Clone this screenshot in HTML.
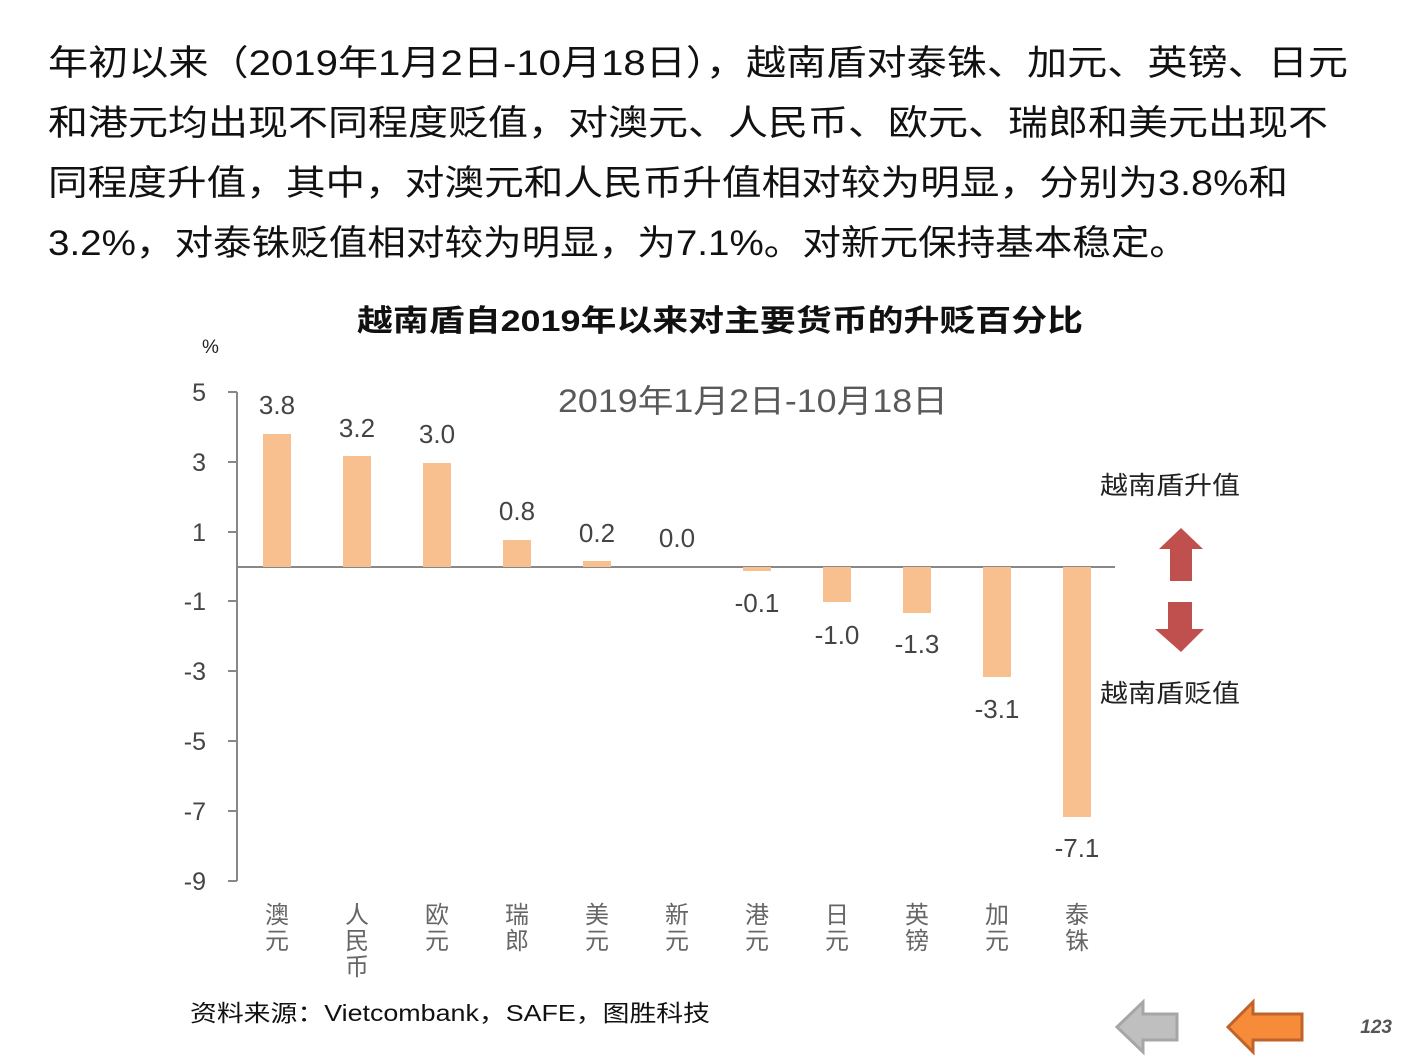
<!DOCTYPE html>
<html><head><meta charset="utf-8"><style>
body{margin:0;background:#fff;width:1411px;height:1058px;overflow:hidden}
svg{display:block}
text{font-family:"Liberation Sans","Noto Sans CJK SC",sans-serif}
</style></head><body>
<svg width="1411" height="1058" viewBox="0 0 1411 1058" xmlns="http://www.w3.org/2000/svg">
<g font-size="35" fill="#111" font-family="'Liberation Serif','Noto Sans CJK SC',sans-serif">
<text x="48" y="75" textLength="1300" lengthAdjust="spacingAndGlyphs">年初以来（2019年1月2日-10月18日），越南盾对泰铢、加元、英镑、日元</text>
<text x="48" y="135" textLength="1280" lengthAdjust="spacingAndGlyphs">和港元均出现不同程度贬值，对澳元、人民币、欧元、瑞郎和美元出现不</text>
<text x="48" y="195" textLength="1240" lengthAdjust="spacingAndGlyphs">同程度升值，其中，对澳元和人民币升值相对较为明显，分别为3.8%和</text>
<text x="48" y="255" textLength="1140" lengthAdjust="spacingAndGlyphs">3.2%，对泰铢贬值相对较为明显，为7.1%。对新元保持基本稳定。</text>
</g>
<text x="720" y="331" font-size="30" font-weight="bold" fill="#111" text-anchor="middle" textLength="726" lengthAdjust="spacingAndGlyphs">越南盾自2019年以来对主要货币的升贬百分比</text>
<text x="202" y="353" font-size="19" fill="#222">%</text>
<text x="558" y="412" font-size="32" fill="#595959" textLength="390" lengthAdjust="spacingAndGlyphs">2019年1月2日-10月18日</text>
<g stroke="#888" stroke-width="2" fill="none">
<line x1="237" y1="392" x2="237" y2="881"/>
<line x1="237" y1="567" x2="1115" y2="567"/>
<line x1="228" y1="392" x2="237" y2="392"/><line x1="228" y1="462" x2="237" y2="462"/>
<line x1="228" y1="532" x2="237" y2="532"/><line x1="228" y1="601" x2="237" y2="601"/>
<line x1="228" y1="671" x2="237" y2="671"/><line x1="228" y1="741" x2="237" y2="741"/>
<line x1="228" y1="811" x2="237" y2="811"/><line x1="228" y1="881" x2="237" y2="881"/>
</g>
<g font-size="25" fill="#444" text-anchor="end">
<text x="206" y="401">5</text><text x="206" y="471">3</text><text x="206" y="541">1</text>
<text x="206" y="610">-1</text><text x="206" y="680">-3</text><text x="206" y="750">-5</text>
<text x="206" y="820">-7</text><text x="206" y="890">-9</text>
</g>
<g fill="#F8C08F">
<rect x="263" y="434" width="28" height="133"/>
<rect x="343" y="456" width="28" height="111"/>
<rect x="423" y="463" width="28" height="104"/>
<rect x="503" y="540" width="28" height="27"/>
<rect x="583" y="561" width="28" height="6"/>
<rect x="743" y="567" width="28" height="4"/>
<rect x="823" y="567" width="28" height="35"/>
<rect x="903" y="567" width="28" height="46"/>
<rect x="983" y="567" width="28" height="110"/>
<rect x="1063" y="567" width="28" height="250"/>
</g>
<g font-size="26" fill="#444" text-anchor="middle">
<text x="277" y="414">3.8</text><text x="357" y="437">3.2</text><text x="437" y="443">3.0</text>
<text x="517" y="520">0.8</text><text x="597" y="542">0.2</text><text x="677" y="547">0.0</text>
<text x="757" y="612">-0.1</text><text x="837" y="644">-1.0</text><text x="917" y="653">-1.3</text>
<text x="997" y="718">-3.1</text><text x="1077" y="857">-7.1</text>
</g>
<g font-size="24" fill="#666" text-anchor="middle">
<text x="277" y="923">澳</text><text x="277" y="949">元</text>
<text x="357" y="923">人</text><text x="357" y="949">民</text><text x="357" y="975">币</text>
<text x="437" y="923">欧</text><text x="437" y="949">元</text>
<text x="517" y="923">瑞</text><text x="517" y="949">郎</text>
<text x="597" y="923">美</text><text x="597" y="949">元</text>
<text x="677" y="923">新</text><text x="677" y="949">元</text>
<text x="757" y="923">港</text><text x="757" y="949">元</text>
<text x="837" y="923">日</text><text x="837" y="949">元</text>
<text x="917" y="923">英</text><text x="917" y="949">镑</text>
<text x="997" y="923">加</text><text x="997" y="949">元</text>
<text x="1077" y="923">泰</text><text x="1077" y="949">铢</text>
</g>
<text x="1100" y="494" font-size="25" fill="#222" textLength="140" lengthAdjust="spacingAndGlyphs">越南盾升值</text>
<text x="1100" y="702" font-size="25" fill="#222" textLength="140" lengthAdjust="spacingAndGlyphs">越南盾贬值</text>
<polygon points="1181,528 1203,549 1192,549 1192,581 1170,581 1170,549 1159,549" fill="#C0504D"/>
<polygon points="1168,602 1192,602 1192,629 1204,629 1181,652 1155,629 1168,629" fill="#C0504D"/>
<text x="190" y="1021" font-size="23" fill="#111" textLength="520" lengthAdjust="spacingAndGlyphs">资料来源：Vietcombank，SAFE，图胜科技</text>
<polygon points="1117,1027 1143,1002 1143,1014 1177,1014 1177,1040 1143,1040 1143,1052" fill="#BFBFBF" stroke="#A6A6A6" stroke-width="3"/>
<polygon points="1228,1027 1253,1002 1253,1014 1302,1014 1302,1040 1253,1040 1253,1052" fill="#F68B3A" stroke="#C0632A" stroke-width="3"/>
<text x="1392" y="1033" font-size="19" font-weight="bold" font-style="italic" fill="#555" text-anchor="end">123</text>
</svg>
</body></html>
